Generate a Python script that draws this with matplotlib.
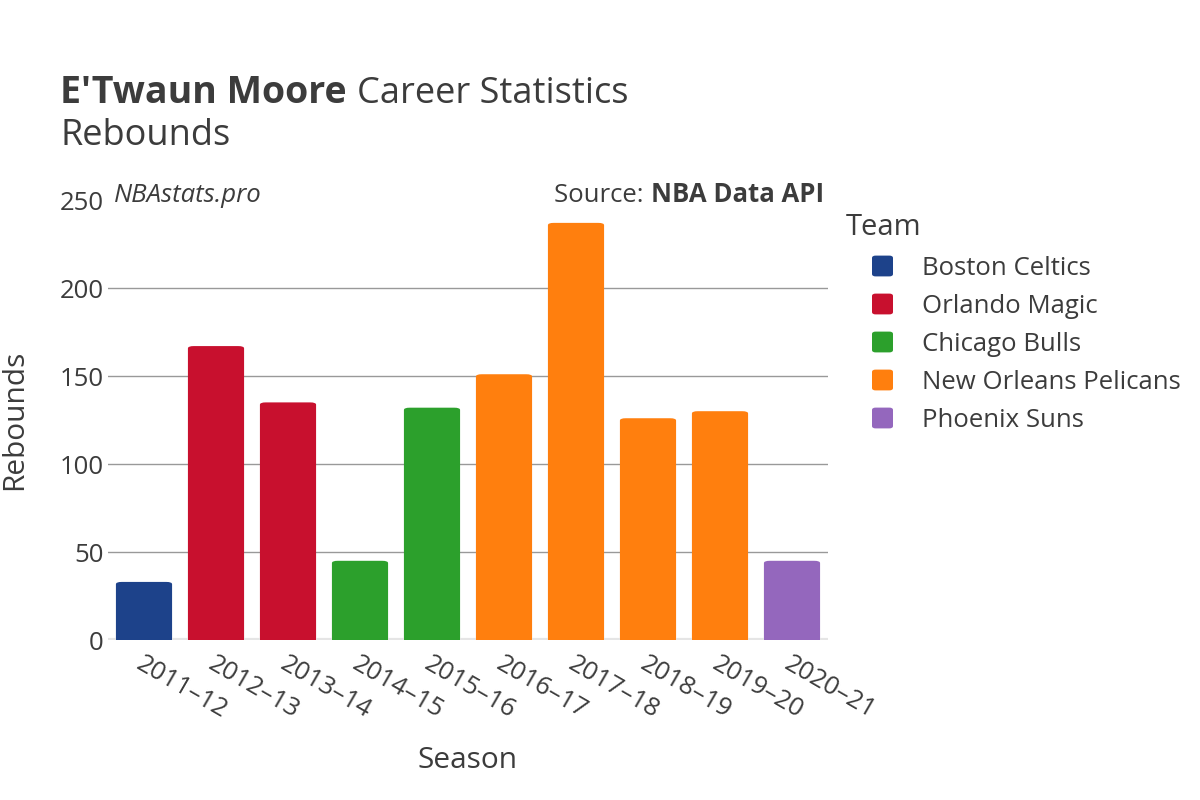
import numpy as np
import matplotlib
matplotlib.use("Agg")
import matplotlib.pyplot as plt
from matplotlib.patches import FancyBboxPatch

plt.rcParams['font.family'] = ['Open Sans', 'DejaVu Sans']

# data
seasons = ["2011–12", "2012–13", "2013–14", "2014–15", "2015–16",
           "2016–17", "2017–18", "2018–19", "2019–20", "2020–21"]
rebounds = [33, 167, 135, 45, 132, 151, 237, 126, 130, 45]
season_team = ["Boston Celtics", "Orlando Magic", "Orlando Magic", "Chicago Bulls",
               "Chicago Bulls", "New Orleans Pelicans", "New Orleans Pelicans",
               "New Orleans Pelicans", "New Orleans Pelicans", "Phoenix Suns"]
teams = ["Boston Celtics", "Orlando Magic", "Chicago Bulls",
         "New Orleans Pelicans", "Phoenix Suns"]
team_colors = ["#1d428a", "#c8102e", "#2ca02c", "#ff7f0e", "#9467bd"]

txt = "#3c3c3c"
cmap = dict(zip(teams, team_colors))

fig = plt.figure(figsize=(12, 8), dpi=100)
ax = fig.add_axes([0.09, 0.2, 0.6, 0.55])

x = np.arange(len(seasons))
bars = ax.bar(x, rebounds, width=0.78, color=[cmap[t] for t in season_team], zorder=3)

# round the bar tops a little
for b in bars:
    b.set_visible(False)
    r = FancyBboxPatch((b.get_x(), b.get_y()), b.get_width(), b.get_height(),
                       boxstyle="round,pad=0,rounding_size=0.08",
                       mutation_aspect=16, fc=b.get_facecolor(), ec="none", zorder=3)
    ax.add_patch(r)
    # square off the bottom corners
    ax.bar(b.get_x() + b.get_width() / 2, min(b.get_height(), 3), width=b.get_width(),
           color=b.get_facecolor(), zorder=3)

ax.set_xlim(-0.5, len(seasons) - 0.5)
ax.set_ylim(0, 250)
ax.set_yticks([0, 50, 100, 150, 200, 250])
for yv in [50, 100, 150, 200]:
    ax.axhline(yv, color="#999999", lw=1, zorder=0)
ax.axhline(0, color="#e5e5e5", lw=3, zorder=2)
for s in ax.spines.values():
    s.set_visible(False)
ax.tick_params(axis="both", length=0, labelsize=18.5, colors=txt)
ax.tick_params(axis="y", pad=3)
ax.tick_params(axis="x", pad=8)
ax.set_xticks(x)
ax.set_xticklabels(seasons, rotation=-30, ha="left", rotation_mode="anchor")
ax.set_xlabel("Season", fontsize=21.5, color=txt, va="center")
ax.xaxis.set_label_coords(0.5, -0.273)
ax.set_ylabel("Rebounds", fontsize=21.5, color=txt, va="center")
ax.yaxis.set_label_coords(-0.129, 0.5)

name = fig.text(0.05, 0.871, "E'Twaun Moore", fontsize=27, fontweight="bold",
                color=txt, va="baseline")
fig.text(0.05, 0.819, "Rebounds", fontsize=26, color=txt, va="baseline")

ax.text(0.008, 0.995, "NBAstats.pro", transform=ax.transAxes, fontsize=18.5,
        style="italic", color=txt, va="baseline")
src = ax.text(0.994, 0.995, "NBA Data API", transform=ax.transAxes, fontsize=18.5,
              fontweight="bold", color=txt, va="baseline", ha="right")
fig.canvas.draw()
bb = src.get_window_extent()
left = ax.transAxes.inverted().transform((bb.x0, bb.y0))[0]
ax.text(left, 0.995, "Source: ", transform=ax.transAxes, fontsize=18.5,
        color=txt, va="baseline", ha="right")
nb = name.get_window_extent()
fig.text(nb.x1 / 1200 + 0.009, 0.871, "Career Statistics", fontsize=26, color=txt,
         va="baseline")

# legend
fig.text(0.705, 1 - 228 / 800, "Team", fontsize=21, color=txt, va="center")
for i, (t, c) in enumerate(zip(teams, team_colors)):
    yy = 1 - (266 + i * 38) / 800
    fig.patches.append(FancyBboxPatch((872 / 1200, yy - 0.013), 21 / 1200, 0.026,
                                      boxstyle="round,pad=0,rounding_size=0.003",
                                      transform=fig.transFigure, fc=c, ec="none"))
    fig.text(922 / 1200, yy - 0.003, t, fontsize=18.5, color=txt, va="center")

fig.savefig("out.png", dpi=100)
